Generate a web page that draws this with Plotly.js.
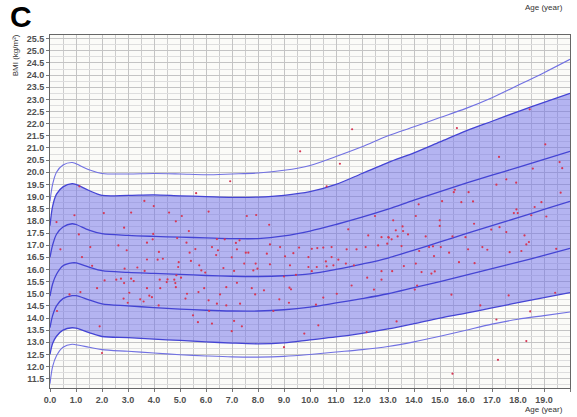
<!DOCTYPE html>
<html>
<head>
<meta charset="utf-8">
<script src="https://cdn.plot.ly/plotly-3.0.1.min.js"></script>
<style>
  html, body { margin: 0; padding: 0; background: #ffffff; }
  #chart { width: 577px; height: 417px; }
</style>
</head>
<body>
<div id="chart"></div>
<script>
// Age nodes shared by the percentile curves (years)
const curveAges = [0, 0.1, 0.25, 0.5, 0.85, 1.0, 1.5, 2, 3, 4, 5, 6, 7, 8, 9, 10, 11, 12, 13, 14, 15, 16, 17, 18, 19, 20];

// BMI percentile curves, lowest to highest (kg/m²)
const p1 = [11.3, 12.0, 12.45, 12.8, 12.92, 12.9, 12.8, 12.7, 12.63, 12.56, 12.49, 12.44, 12.4, 12.39, 12.42, 12.5, 12.6, 12.7, 12.83, 13.02, 13.25, 13.5, 13.75, 13.95, 14.1, 14.25];
const p2 = [12.5, 12.95, 13.25, 13.5, 13.6, 13.58, 13.4, 13.24, 13.19, 13.13, 13.08, 13.02, 12.97, 12.94, 12.98, 13.1, 13.22, 13.37, 13.55, 13.77, 14.0, 14.2, 14.42, 14.63, 14.84, 15.05];
const p3 = [13.6, 14.1, 14.5, 14.8, 14.92, 14.92, 14.75, 14.58, 14.5, 14.43, 14.37, 14.32, 14.29, 14.29, 14.34, 14.45, 14.62, 14.8, 15.0, 15.25, 15.5, 15.77, 16.03, 16.3, 16.58, 16.87];
const p4 = [14.9, 15.4, 15.8, 16.15, 16.27, 16.27, 16.1, 15.95, 15.88, 15.84, 15.8, 15.75, 15.72, 15.71, 15.74, 15.82, 16.0, 16.22, 16.47, 16.8, 17.13, 17.47, 17.8, 18.13, 18.47, 18.8];
const p5 = [16.5, 17.0, 17.45, 17.75, 17.88, 17.85, 17.62, 17.47, 17.4, 17.36, 17.33, 17.3, 17.27, 17.27, 17.38, 17.58, 17.85, 18.15, 18.48, 18.85, 19.2, 19.55, 19.88, 20.2, 20.53, 20.86];
const p6 = [17.8, 18.6, 19.1, 19.4, 19.53, 19.5, 19.25, 19.05, 19.05, 19.07, 19.03, 19.0, 18.97, 18.98, 19.05, 19.2, 19.5, 19.95, 20.4, 20.8, 21.25, 21.7, 22.1, 22.5, 22.88, 23.25];
const p7 = [18.8, 19.5, 20.0, 20.3, 20.4, 20.35, 20.1, 19.95, 19.93, 19.95, 19.93, 19.9, 19.93, 19.97, 20.08, 20.28, 20.65, 21.05, 21.5, 21.87, 22.25, 22.63, 23.07, 23.58, 24.1, 24.65];

// Individual measurements: age (years) and BMI (kg/m²)
const obsAge = [
  5.62, 3.63, 3.99, 2.07, 3.12, 4.58, 5.07, 4.84, 6.10, 7.57, 7.93, 2.85, 5.34, 3.97, 3.95, 4.89, 6.42, 6.72, 3.73, 5.25,
  7.15, 7.29, 2.63, 6.23, 5.59, 2.95, 4.19, 5.37, 6.46, 7.19, 7.53, 7.63, 6.39, 6.99, 3.73, 4.14, 4.34, 5.42, 4.95, 7.47,
  7.91, 1.62, 2.87, 3.36, 4.93, 5.74, 5.82, 5.97, 6.67, 7.08, 7.82, 7.98, 3.64, 4.86, 5.04, 2.10, 2.55, 2.73, 2.85, 3.12,
  3.22, 4.22, 4.52, 4.49, 4.78, 4.82, 1.81, 3.73, 4.24, 4.84, 5.93, 6.78, 7.19, 7.76, 3.05, 3.82, 3.92, 5.27, 5.21, 5.71,
  6.54, 7.89, 2.83, 2.99, 3.47, 3.60, 4.18, 6.10, 6.42, 6.78, 7.31, 5.50, 6.12, 5.69, 6.23, 7.08, 7.38, 1.91, 6.99,
  0.25, 0.94, 1.11, 0.40, 1.23, 1.55, 0.75, 1.17, 0.27, 2.00, 1.13,
  9.62, 11.15, 6.93, 10.64, 8.43, 12.50, 12.24, 11.47, 13.03, 8.46, 8.85, 8.34, 9.04, 9.36, 9.58, 10.07, 10.28, 10.51, 10.83,
  11.09, 11.41, 11.79, 12.14, 12.62, 12.75, 10.83, 10.61, 9.94, 8.46, 9.23, 9.94, 10.64, 10.90,
  19.05, 17.27, 19.60, 19.70, 18.57, 17.55, 17.93, 17.17, 19.64, 15.57, 15.53, 16.10, 14.18, 15.08, 15.82, 16.27, 18.90,
  18.64, 17.94, 17.84, 17.99, 18.51, 19.09, 13.20, 14.07, 14.99, 14.99, 16.31, 13.56, 13.58, 13.30, 13.77, 13.01, 13.14,
  13.37, 14.45, 15.48, 15.98, 16.97, 17.29, 17.55, 18.25, 18.42, 18.32, 19.47, 12.97, 13.52, 14.58, 14.73, 15.03, 14.20,
  14.77, 15.35, 16.08, 16.63, 16.82, 17.68, 18.13, 13.61, 14.07, 15.73, 16.33,
  12.75, 13.16, 14.29, 14.67, 14.80, 12.75, 14.12, 14.03, 15.44, 17.64, 19.43, 16.55, 18.47, 13.33, 17.17, 18.32, 17.23, 15.48,
  18.45, 15.65, 11.62,
  9.00, 9.46, 10.07, 10.26, 11.38, 11.69, 12.20, 11.03, 11.60, 12.46, 10.51, 10.23, 9.21, 9.27, 8.82, 9.19, 8.23, 8.59,
  9.78, 10.32, 12.18, 9.00
];
const obsBmi = [
  19.14, 18.82, 18.61, 18.32, 18.34, 18.34, 18.20, 17.98, 18.38, 18.20, 18.24, 17.72, 17.58, 17.46, 17.24, 17.29, 17.25, 17.24, 17.10, 17.10,
  17.09, 17.20, 16.99, 16.92, 16.84, 16.79, 16.72, 16.69, 16.79, 16.83, 16.69, 16.69, 16.59, 16.50, 16.41, 16.40, 16.44, 16.35, 16.30, 16.24,
  16.24, 16.15, 16.03, 16.08, 16.10, 16.17, 15.96, 15.87, 16.06, 15.94, 15.96, 16.03, 15.94, 15.76, 15.66, 15.55, 15.58, 15.62, 15.44, 15.62,
  15.52, 15.58, 15.59, 15.48, 15.58, 15.44, 15.23, 15.23, 15.23, 15.27, 15.23, 15.27, 15.45, 15.23, 15.04, 14.92, 14.86, 15.00, 14.80, 15.07,
  14.97, 14.97, 14.80, 14.63, 14.77, 14.68, 14.52, 14.73, 14.59, 14.52, 14.59, 14.11, 14.29, 13.83, 13.77, 13.88, 13.66, 13.66, 13.46,
  17.95, 18.23, 17.44, 16.83, 16.51, 16.92, 14.97, 15.07, 14.29, 12.56, 19.42,
  20.86, 20.35, 19.63, 19.42, 17.84, 18.20, 17.40, 17.65, 17.31, 17.03, 16.92, 16.65, 16.54, 16.67, 16.90, 16.85, 16.88, 16.90, 16.92,
  16.40, 16.83, 16.83, 16.92, 16.99, 17.33, 16.51, 16.33, 16.51, 16.21, 16.17, 16.10, 16.13, 16.17,
  21.15, 20.63, 20.42, 20.17, 20.15, 19.71, 19.57, 19.49, 19.16, 19.28, 19.18, 19.18, 18.68, 18.81, 18.77, 18.80, 18.77,
  18.57, 18.47, 18.32, 18.32, 18.23, 18.18, 18.02, 18.20, 18.02, 17.79, 17.88, 17.77, 17.58, 17.61, 17.44, 17.33, 17.24,
  17.36, 17.36, 17.36, 17.33, 17.64, 17.74, 17.54, 17.40, 17.13, 17.03, 16.85, 17.06, 16.96, 16.92, 16.95, 16.92, 16.76,
  16.55, 16.69, 16.83, 16.92, 16.81, 16.71, 16.76, 16.14, 16.24, 16.30, 16.26,
  15.93, 15.93, 15.89, 15.83, 15.92, 15.58, 15.34, 15.17, 14.96, 14.93, 15.04, 14.52, 14.27, 13.86, 13.94, 13.05, 12.28, 11.71,
  22.59, 21.82, 21.77,
  15.71, 15.78, 15.93, 16.10, 16.24, 16.17, 15.66, 15.00, 15.34, 15.17, 14.84, 14.55, 15.25, 15.18, 14.77, 14.63, 15.14, 14.29,
  13.36, 13.70, 13.42, 12.80
];

const FONT = 'Arial, "Liberation Sans", sans-serif';
const innerLine = { color: 'rgb(68,68,212)', width: 1.3, shape: 'spline', smoothing: 0.9 };
const outerLine = { color: 'rgb(112,112,226)', width: 1.1, shape: 'spline', smoothing: 0.9 };

function curve(y, line, extra) {
  return Object.assign({
    x: curveAges, y: y, type: 'scatter', mode: 'lines',
    line: line, hoverinfo: 'skip', showlegend: false
  }, extra || {});
}

const traces = [
  curve(p1, outerLine),
  curve(p2, innerLine),
  // shaded band between the second and sixth curves
  curve(p6, innerLine, { fill: 'tonexty', fillcolor: 'rgba(110,110,234,0.5)' }),
  curve(p3, innerLine),
  curve(p4, innerLine),
  curve(p5, innerLine),
  curve(p7, outerLine),
  {
    x: obsAge, y: obsBmi, type: 'scatter', mode: 'markers',
    marker: { color: 'rgb(215,55,85)', size: 2.2 },
    hoverinfo: 'skip', showlegend: false
  }
];

const axisCommon = {
  showline: true, mirror: true, linecolor: '#666666', linewidth: 1,
  gridcolor: '#c4c4c4', gridwidth: 1, zeroline: false,
  ticks: 'outside', ticklen: 3, tickcolor: '#777777',
  tickfont: { family: FONT, size: 9, color: '#505050', weight: 'bold' },
  tickformat: '.1f', fixedrange: true
};

const layout = {
  width: 577, height: 417,
  margin: { l: 50, r: 7, t: 35, b: 29 },
  paper_bgcolor: '#ffffff',
  plot_bgcolor: '#fbfbf8',
  showlegend: false,
  xaxis: Object.assign({}, axisCommon, {
    range: [0, 20], tick0: 0, dtick: 1,
    minor: { dtick: 0.5, showgrid: true, gridcolor: '#cdcdcd', gridwidth: 1 }
  }),
  yaxis: Object.assign({}, axisCommon, {
    range: [11.12, 25.65], tick0: 11.5, dtick: 0.5,
    minor: { dtick: 0.25, showgrid: true, gridcolor: '#dedede', gridwidth: 1 }
  }),
  annotations: [
    { text: 'C', xref: 'paper', yref: 'paper', x: -0.056, y: 1.051,
      xanchor: 'center', yanchor: 'middle', showarrow: false,
      font: { family: FONT, size: 30, color: '#000000', weight: 'bold' } },
    { text: 'Age (year)', xref: 'paper', yref: 'paper', x: 0.95, y: 1.079,
      xanchor: 'center', yanchor: 'middle', showarrow: false,
      font: { family: FONT, size: 8, color: '#333333' } },
    { text: 'Age (year)', xref: 'paper', yref: 'paper', x: 0.95, y: -0.062,
      xanchor: 'center', yanchor: 'middle', showarrow: false,
      font: { family: FONT, size: 8, color: '#333333' } },
    { text: 'BMI (kg/m²)', xref: 'paper', yref: 'paper', x: -0.067, y: 0.943,
      xanchor: 'center', yanchor: 'middle', textangle: -90, showarrow: false,
      font: { family: FONT, size: 8, color: '#333333' } }
  ]
};

Plotly.newPlot('chart', traces, layout, { staticPlot: true, displayModeBar: false });
</script>
</body>
</html>
